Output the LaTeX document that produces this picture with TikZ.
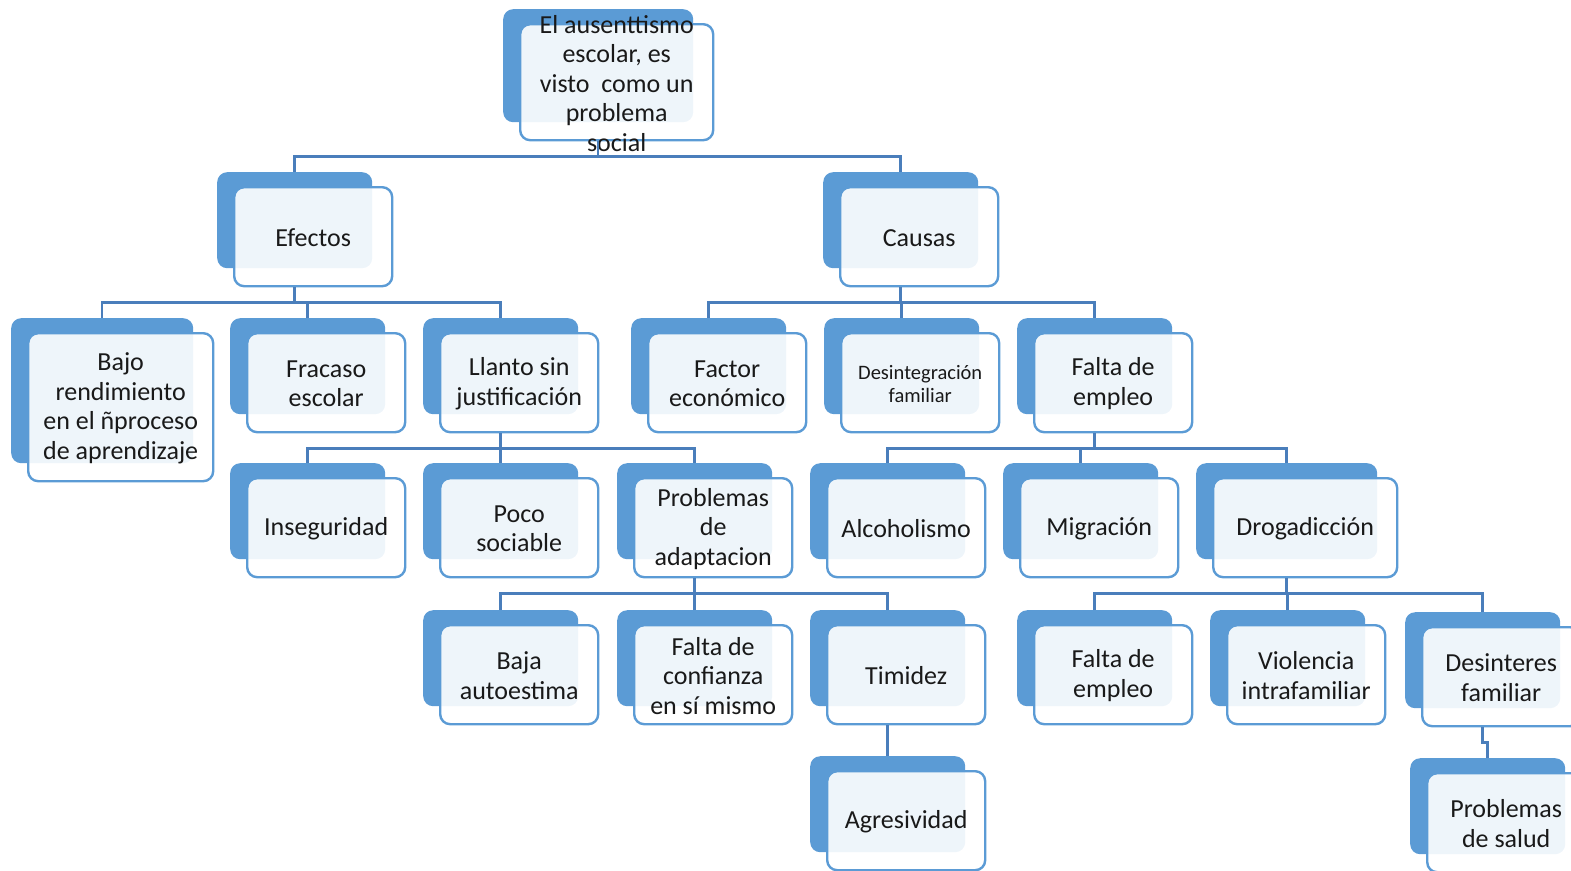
\documentclass[tikz,border=0pt]{standalone}
\usepackage{fontspec}
\setmainfont{Carlito}
\definecolor{bk}{RGB}{91,155,213}
\definecolor{ln}{RGB}{74,126,187}
\definecolor{tx}{RGB}{25,25,25}
\tikzset{
 backbox/.style={fill=bk, rounded corners=10pt, inner sep=0pt, anchor=north west},
 frontbox/.style={draw=bk, line width=2.4pt, fill=white, fill opacity=0.9, rounded corners=10pt, inner sep=0pt, anchor=north west},
 txt/.style={align=center, inner sep=0pt, text=tx},
 conn/.style={draw=ln, line width=2.5pt},
}
\newcommand\bigfont{\fontsize{26}{29.5}\selectfont}
\newcommand\smallfont{\fontsize{20.5}{23}\selectfont}
% #1 font, #2 name, #3 x, #4 y, #5 w, #6 h, #7 text
\newcommand\tnode[7][\bigfont]{%
 \node[backbox, minimum width=#5pt, minimum height=#6pt] (#2b) at (#3,#4) {};
 \node[frontbox, minimum width={(#5+3)*1pt}, minimum height={(#6+3)*1pt}] (#2) at ({#3+16},{#4+14}) {};
 \node[txt, font=#1] (#2t) at ([yshift=-1pt]#2.center) {#7};
}
\newcommand\link[2]{\draw[conn] (#1b.center |- #1.south) -- ++(0,15) -| (#2b.north);}
\begin{document}
\begin{tikzpicture}[x=1pt, y=-1pt]
\useasboundingbox (0,0) rectangle (1571,870);
\clip (0,0) rectangle (1571,870);
\tnode{root}{503}{9}{190}{113}{El ausenttismo\\escolar, es\\visto\ \ como un\\problema\\social}
\tnode{ef}{217}{172}{155}{96}{Efectos}
\tnode{ca}{823}{172}{155}{96}{Causas}
\tnode{bajo}{11}{318}{182}{145}{Bajo\\rendimiento\\en el ñproceso\\de aprendizaje}
\tnode{fra}{230}{318}{155}{96}{Fracaso\\escolar}
\tnode{lla}{423}{318}{155}{96}{Llanto sin\\justificación}
\tnode{fac}{631}{318}{155}{96}{Factor\\económico}
\tnode[\smallfont]{des}{824}{318}{155}{96}{Desintegración\\familiar}
\tnode{fem}{1017}{318}{155}{96}{Falta de\\empleo}
\tnode{ins}{230}{463}{155}{96}{Inseguridad}
\tnode{poc}{423}{463}{155}{96}{Poco\\sociable}
\tnode{pad}{617}{463}{155}{96}{Problemas\\de\\adaptacion}
\tnode{alc}{810}{463}{155}{96}{Alcoholismo}
\tnode{mig}{1003}{463}{155}{96}{Migración}
\tnode{dro}{1196}{463}{181}{96}{Drogadicción}
\tnode{baj}{423}{610}{155}{96}{Baja\\autoestima}
\tnode{fco}{617}{610}{155}{96}{Falta de\\confianza\\en sí mismo}
\tnode{tim}{810}{610}{155}{96}{Timidez}
\tnode{fem2}{1017}{610}{155}{96}{Falta de\\empleo}
\tnode{vio}{1210}{610}{155}{96}{Violencia\\intrafamiliar}
\tnode{dsi}{1405}{612}{155}{96}{Desinteres\\familiar}
\tnode{agr}{810}{756}{155}{96}{Agresividad}
\tnode{sal}{1410}{758}{155}{96}{Problemas\\de salud}
\link{root}{ef}\link{root}{ca}
\link{ef}{bajo}\link{ef}{fra}\link{ef}{lla}
\link{ca}{fac}\link{ca}{des}\link{ca}{fem}
\link{lla}{ins}\link{lla}{poc}\link{lla}{pad}
\link{fem}{alc}\link{fem}{mig}\link{fem}{dro}
\link{pad}{baj}\link{pad}{fco}\link{pad}{tim}
\link{dro}{fem2}\link{dro}{vio}\link{dro}{dsi}
\link{tim}{agr}
\link{dsi}{sal}
\end{tikzpicture}
\end{document}
